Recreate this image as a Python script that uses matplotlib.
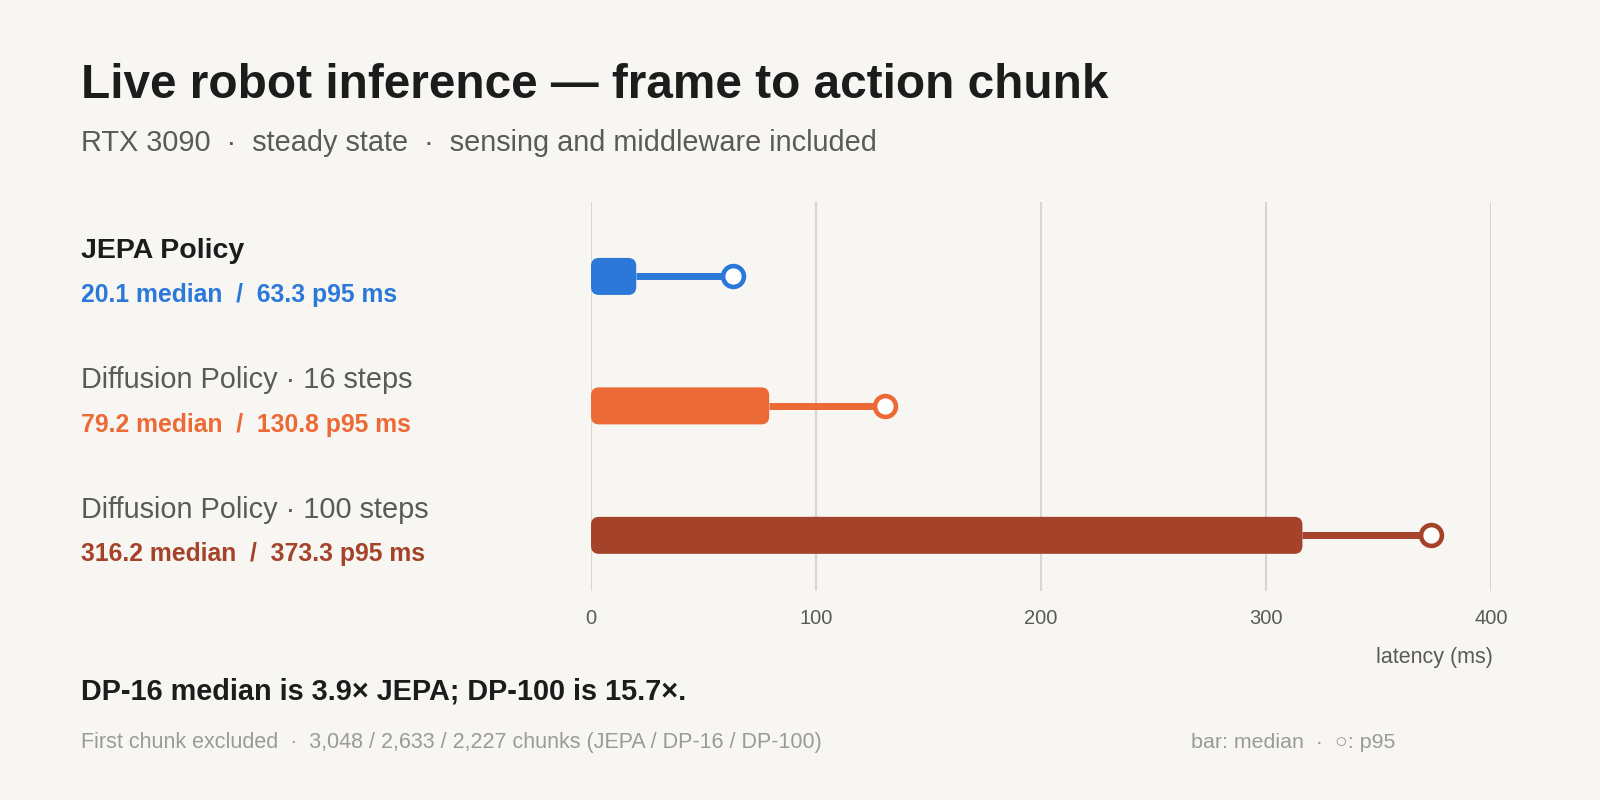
import matplotlib
matplotlib.use("Agg")
import matplotlib.pyplot as plt
import matplotlib.transforms as mtransforms
from matplotlib.patches import FancyBboxPatch

plt.rcParams['font.family'] = ['Liberation Sans', 'DejaVu Sans']

# data
models = ['JEPA Policy', 'Diffusion Policy · 16 steps', 'Diffusion Policy · 100 steps']
medians = [20.1, 79.2, 316.2]
p95s = [63.3, 130.8, 373.3]
colors = ['#2B78D8', '#EC6A35', '#A5432A']
ticks = [0, 100, 200, 300, 400]

BG = '#F7F6F2'
DARK = '#1C1C1C'
GRAY = '#5A5A5A'
LIGHT = '#9A9A9A'

W, H = 1600, 800
fig = plt.figure(figsize=(16, 8), dpi=100, facecolor=BG)

# axes box in pixels
ax_l, ax_r, ax_t, ax_b = 591, 1491, 202, 591
ax = fig.add_axes([ax_l / W, 1 - ax_b / H, (ax_r - ax_l) / W, (ax_b - ax_t) / H])
ax.set_facecolor(BG)

xmin, xmax = 0, 400
ymin, ymax = 2.43, -0.575
ax.set_xlim(xmin, xmax)
ax.set_ylim(ymin, ymax)

# px per data unit, for rounded corners
px_x = (ax_r - ax_l) / (xmax - xmin)
px_y = (ax_b - ax_t) / (ymin - ymax)
aspect = px_x / px_y
bar_h = 37 / px_y
rnd = 8 / px_x

for i, (m, p, c) in enumerate(zip(medians, p95s, colors)):
    ax.plot([m, p], [i, i], color=c, lw=5, solid_capstyle='butt', zorder=2)
    box = FancyBboxPatch((0, i - bar_h / 2), m, bar_h,
                         boxstyle='round,pad=0,rounding_size=%f' % rnd,
                         mutation_aspect=aspect, fc=c, ec='none', zorder=3)
    ax.add_patch(box)
    ax.plot([p], [i], marker='o', ms=15, mfc='white', mec=c, mew=3.3, zorder=4)

ax.set_xticks(ticks)
ax.set_xticklabels([str(t) for t in ticks])
ax.set_yticks([])
ax.grid(axis='x', color='#D8D6D0', lw=1.5, zorder=0)
ax.set_axisbelow(True)
for s in ax.spines.values():
    s.set_visible(False)
ax.tick_params(axis='x', length=0, pad=13, labelsize=14.5, labelcolor=GRAY)

# left labels
x0 = 81 / W
trans = mtransforms.blended_transform_factory(fig.transFigure, ax.transData)
off_n = mtransforms.offset_copy(trans, fig=fig, x=0, y=18.6, units='points')
off_v = mtransforms.offset_copy(trans, fig=fig, x=0, y=-13.6, units='points')
for i, (name, m, p, c) in enumerate(zip(models, medians, p95s, colors)):
    if i == 0:
        fig.text(x0, i, name, transform=off_n, fontsize=20.5, fontweight='bold',
                 color=DARK, va='center', ha='left')
    else:
        fig.text(x0, i, name, transform=off_n, fontsize=20.8,
                 color=GRAY, va='center', ha='left')
    fig.text(x0, i, f'{m:.1f} median  /  {p:.1f} p95 ms', transform=off_v,
             fontsize=17.8, fontweight='bold', color=c, va='center', ha='left')

# titles
fig.text(x0, 1 - 86 / H, 'Live robot inference — frame to action chunk',
         fontsize=34.4, fontweight='bold', color=DARK, va='center', ha='left')
fig.text(x0, 1 - 143 / H,
         'RTX 3090  ·  steady state  ·  sensing and middleware included',
         fontsize=20.8, color=GRAY, va='center', ha='left')

fig.text(1493 / W, 1 - 657 / H, 'latency (ms)', fontsize=15.5, color=GRAY,
         va='center', ha='right')

fig.text(x0, 1 - 692 / H, 'DP-16 median is 3.9× JEPA; DP-100 is 15.7×.',
         fontsize=20.8, fontweight='bold', color=DARK, va='center', ha='left')
fig.text(x0, 1 - 740 / H,
         'First chunk excluded  ·  3,048 / 2,633 / 2,227 chunks (JEPA / DP-16 / DP-100)',
         fontsize=15.5, color=LIGHT, va='center_baseline', ha='left')
fig.text(1191 / W, 1 - 740 / H, 'bar: median  ·  ○: p95',
         fontsize=15.4, color=LIGHT, va='center_baseline', ha='left')

fig.savefig('out.png', dpi=100, facecolor=BG)
